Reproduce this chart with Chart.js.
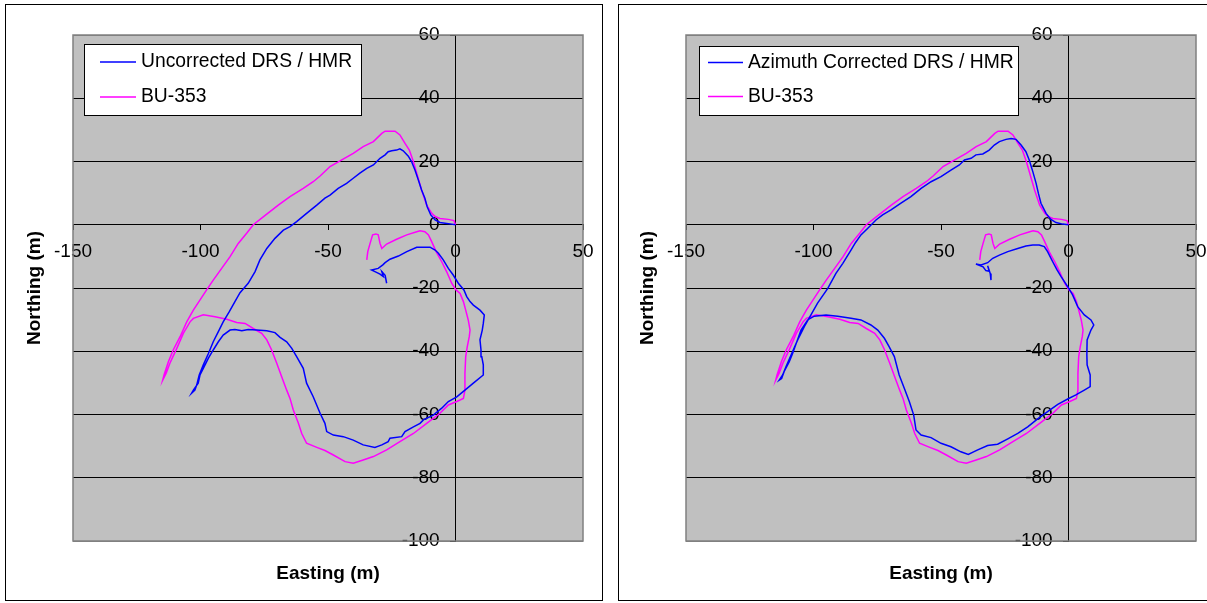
<!DOCTYPE html>
<html>
<head>
<meta charset="utf-8">
<title>DRS / HMR track vs BU-353</title>
<style>
  body {
    margin: 0;
    width: 1207px;
    height: 603px;
    overflow: hidden;
    background: #fff;
    position: relative;
  }
  .chart-box {
    position: absolute;
    top: 4px;
    width: 598px;
    height: 597px;
    border: 1px solid #000;
    box-sizing: border-box;
  }
  #boxOne { left: 5px; }
  #boxTwo { left: 618px; }
</style>
<script src="https://cdn.jsdelivr.net/npm/chart.js"></script>
</head>
<body>
<div class="chart-box" id="boxOne"><canvas id="chartOne"></canvas></div>
<div class="chart-box" id="boxTwo"><canvas id="chartTwo"></canvas></div>

<script>
"use strict";

// BU-353 GPS track (same in both charts)
const gpsEast = [
  0, -0.6, -2.8, -6.1, -8.0, -9.3, -11.3, -13.3, -15.2, -16.5,
  -18.1, -19.8, -21.8, -23.7, -27.6, -28.9, -32.2, -36.2, -40.1, -44.6,
  -49.2, -53.1, -55.8, -59.7, -64.9, -69.5, -75.4, -79.3, -81.9, -85.2,
  -88.4, -91.7, -95.0, -97.6, -102.8, -105.4, -108.0, -110.7, -112.6, -114.3,
  -114.8, -113.5, -112.0, -109.3, -106.7, -104.1, -102.8, -98.9, -94.3, -89.7,
  -85.8, -82.5, -79.3, -76.0, -74.0, -72.1, -70.1, -68.2, -66.2, -64.9,
  -63.6, -61.6, -60.3, -58.4, -54.4, -51.2, -47.9, -43.3, -40.1, -36.2,
  -32.2, -27.0, -21.8, -16.5, -11.3, -6.1, -2.8, 0.5, 3.1, 3.7,
  3.7, 4.0, 4.6, 5.4, 5.7, 5.0, 4.0, 3.1, 1.8, 0.2,
  -1.5, -3.5, -5.4, -7.6, -9.3, -10.6, -12.0, -13.9, -15.2, -19.1,
  -23.1, -27.0, -28.9, -29.6, -30.3, -31.2, -32.5, -33.5, -34.4, -34.8,
];
const gpsNorth = [
  0, 1.3, 1.7, 2.0, 2.6, 3.6, 6.2, 11.0, 16.3, 19.9,
  23.6, 25.7, 28.4, 29.6, 29.6, 28.9, 26.3, 24.7, 22.6, 20.5,
  18.4, 15.4, 13.6, 11.5, 8.9, 6.2, 2.5, 0, -2.7, -5.9,
  -10.1, -13.8, -17.5, -20.6, -27.0, -30.7, -35.4, -39.6, -43.3, -47.5,
  -49.1, -47.0, -43.8, -39.1, -34.3, -30.7, -29.6, -28.5, -29.1, -29.9,
  -30.9, -31.2, -32.8, -34.3, -36.4, -39.6, -43.8, -48.0, -52.3, -54.9,
  -58.6, -62.8, -66.0, -69.1, -70.4, -71.4, -72.8, -74.9, -75.4, -74.4,
  -73.3, -71.2, -68.6, -66.0, -62.8, -59.6, -57.0, -55.9, -54.9, -52.3,
  -47.0, -41.7, -38.6, -35.4, -33.3, -30.1, -27.0, -24.3, -21.7, -20.6,
  -18.5, -14.8, -11.7, -8.5, -5.4, -3.2, -2.2, -1.9, -2.2, -3.2,
  -4.6, -6.1, -7.5, -5.9, -3.2, -2.9, -3.2, -5.9, -8.5, -11.1,
];

// Uncorrected DRS / HMR track
const rawEast = [
  0, -1.5, -4.1, -6.1, -8.0, -9.7, -11.1, -12.0, -13.3, -14.6,
  -15.9, -17.2, -18.5, -20.5, -21.8, -23.1, -25.0, -26.4, -27.6, -29.6,
  -32.2, -34.8, -37.5, -40.1, -42.7, -46.0, -49.2, -51.2, -54.4, -58.4,
  -62.3, -64.9, -67.5, -70.8, -74.0, -76.7, -78.6, -81.3, -84.5, -86.5,
  -88.7, -91.1, -93.0, -95.0, -96.9, -98.9, -100.5, -101.5, -102.2, -103.5,
  -102.8, -100.9, -100.2, -98.9, -96.9, -95.0, -93.0, -91.1, -88.4, -86.5,
  -83.8, -81.3, -78.0, -74.0, -70.8, -68.8, -66.2, -64.2, -62.3, -59.7,
  -58.4, -55.8, -53.1, -51.2, -50.5, -47.9, -44.0, -40.1, -36.2, -31.6,
  -28.9, -26.4, -25.7, -21.1, -19.8, -16.5, -13.9, -12.6, -8.7, -5.4,
  -2.8, 0.5, 3.7, 7.0, 10.9, 10.9, 10.3, 10.0, 9.6, 10.5,
  10.9, 11.3, 9.6, 7.0, 5.7, 4.4, 3.3, 1.1, -0.9, -2.8,
  -4.8, -6.7, -8.0, -10.0, -15.2, -19.1, -22.4, -25.7, -27.6, -28.5,
  -30.3, -32.9, -31.6, -29.6, -28.3, -28.9, -27.6, -27.0,
];
const rawNorth = [
  0, 0.2, 0.5, 0.7, 1.5, 3.1, 5.7, 8.4, 11.0, 14.2,
  17.3, 19.9, 21.7, 23.4, 24.0, 23.6, 23.4, 23.1, 22.1, 21.0,
  18.9, 17.8, 16.3, 14.7, 13.1, 11.5, 9.4, 8.4, 6.2, 3.6,
  1.0, -0.6, -1.7, -4.3, -7.5, -11.1, -14.8, -18.5, -21.5, -24.3,
  -27.5, -30.7, -33.8, -37.0, -40.7, -44.3, -47.5, -50.7, -52.3, -53.3,
  -52.3, -50.1, -47.5, -45.4, -42.2, -39.6, -37.0, -34.9, -33.3, -33.1,
  -33.5, -33.1, -33.3, -33.5, -34.1, -35.6, -37.0, -39.1, -41.7, -45.4,
  -50.1, -54.4, -59.6, -62.8, -65.4, -66.5, -67.0, -68.1, -69.6, -70.4,
  -69.6, -68.6, -67.5, -67.0, -65.4, -63.9, -62.8, -61.7, -60.2, -58.0,
  -55.9, -54.4, -52.3, -50.1, -47.5, -44.3, -41.7, -39.6, -36.4, -33.3,
  -31.2, -28.5, -27.0, -25.4, -24.3, -22.7, -20.6, -18.5, -15.9, -13.8,
  -11.1, -9.0, -8.0, -7.1, -7.1, -8.5, -9.9, -10.9, -12.0, -12.7,
  -13.8, -14.3, -14.8, -15.6, -16.4, -14.8, -16.0, -18.5,
];

// Azimuth corrected DRS / HMR track
const corrEast = [
  0, -2.3, -4.9, -6.9, -8.8, -10.8, -11.8, -12.7, -14.0, -15.4,
  -16.7, -18.6, -20.6, -22.5, -24.5, -27.1, -29.1, -31.1, -33.6, -36.3,
  -38.2, -40.8, -42.8, -46.1, -50.0, -53.9, -57.8, -61.8, -65.7, -69.6,
  -72.9, -75.5, -78.7, -81.4, -83.5, -85.3, -88.5, -91.2, -94.4, -98.4,
  -101.0, -103.6, -106.2, -108.8, -110.8, -112.1, -113.4, -112.5, -111.5, -109.5,
  -108.2, -104.9, -102.3, -99.7, -95.1, -90.5, -85.3, -81.4, -77.5, -74.8,
  -72.2, -70.3, -68.3, -66.4, -64.4, -62.4, -60.7, -59.8, -57.8, -53.9,
  -50.0, -46.1, -42.2, -39.3, -35.6, -31.7, -27.8, -23.8, -19.9, -16.0,
  -12.1, -8.2, -4.2, -0.3, 2.9, 6.2, 8.5, 8.5, 7.3, 7.2,
  7.3, 8.8, 9.9, 8.8, 6.2, 3.6, 1.6, -0.3, -2.9, -4.5,
  -6.2, -8.2, -9.5, -11.5, -14.0, -16.7, -19.9, -23.8, -27.1, -29.7,
  -31.7, -34.3, -36.3, -33.5, -32.4, -31.1, -31.7, -30.7, -30.4,
];
const corrNorth = [
  0, 0.2, 0.7, 1.7, 3.6, 6.8, 9.9, 13.1, 16.8, 20.5,
  23.1, 25.2, 27.0, 27.3, 27.0, 26.3, 25.2, 23.6, 22.4, 22.1,
  21.0, 20.5, 18.9, 17.3, 15.2, 13.6, 11.5, 8.9, 6.8, 4.7,
  3.1, 1.5, -1.1, -3.2, -5.6, -8.0, -12.2, -15.4, -20.1, -24.8,
  -28.5, -32.2, -36.4, -41.2, -44.9, -47.5, -49.1, -48.6, -46.4, -43.3,
  -40.7, -33.3, -30.1, -28.9, -28.5, -28.9, -29.6, -30.1, -31.7, -33.3,
  -35.9, -38.6, -41.7, -47.5, -51.7, -56.0, -60.2, -64.9, -66.5, -67.3,
  -69.1, -70.2, -71.8, -72.6, -71.2, -69.8, -69.4, -67.7, -66.0, -63.9,
  -61.4, -59.1, -56.8, -55.1, -53.8, -52.3, -51.2, -47.5, -44.3, -41.0,
  -36.4, -33.3, -31.7, -30.1, -28.5, -25.9, -22.2, -19.6, -16.4, -14.3,
  -11.7, -8.5, -6.9, -6.4, -6.4, -6.7, -7.5, -8.5, -9.6, -10.6,
  -12.0, -12.7, -12.4, -13.3, -14.5, -14.7, -13.0, -15.4, -17.5,
];

const eastingTicks = [-150, -100, -50, 0, 50];
const northingTicks = [-100, -80, -60, -40, -20, 0, 20, 40, 60];

const fontFamily = "'Liberation Sans', Arial, sans-serif";

function toPoints(xs, ys) {
  return xs.map((x, i) => ({ x: x, y: ys[i] }));
}

// grey plot area, axis titles and the boxed legend inside the plot
const plotFrame = {
  id: "plotFrame",
  beforeDraw(chart) {
    const { ctx, chartArea: a } = chart;
    ctx.save();
    ctx.fillStyle = "#c0c0c0";
    ctx.fillRect(a.left, a.top, a.right - a.left, a.bottom - a.top);
    ctx.restore();
  },
  beforeDatasetsDraw(chart) {
    const { ctx, chartArea: a } = chart;
    ctx.save();
    ctx.strokeStyle = "#808080";
    ctx.lineWidth = 1.5;
    ctx.strokeRect(a.left, a.top, a.right - a.left, a.bottom - a.top);
    ctx.restore();
  },
  afterDraw(chart, args, opts) {
    const { ctx, chartArea: a } = chart;

    ctx.save();
    ctx.fillStyle = "#000";
    ctx.font = "bold 19px " + fontFamily;
    ctx.textAlign = "center";
    ctx.textBaseline = "middle";
    ctx.fillText("Easting (m)", (a.left + a.right) / 2, a.bottom + 33);
    ctx.translate(a.left - 38, (a.top + a.bottom) / 2);
    ctx.rotate(-Math.PI / 2);
    ctx.fillText("Northing (m)", 0, 0);
    ctx.restore();

    const lx = Math.round(a.left + opts.x);
    const ly = Math.round(a.top + opts.y);
    ctx.save();
    ctx.fillStyle = "#fff";
    ctx.fillRect(lx, ly, opts.width, opts.height);
    ctx.strokeStyle = "#000";
    ctx.lineWidth = 1;
    ctx.strokeRect(lx + 0.5, ly + 0.5, opts.width, opts.height);
    ctx.font = "19.3px " + fontFamily;
    ctx.textBaseline = "middle";
    chart.data.datasets.forEach((ds, i) => {
      const y = ly + opts.rows[i];
      ctx.strokeStyle = ds.borderColor;
      ctx.lineWidth = 1.5;
      ctx.beginPath();
      ctx.moveTo(lx + opts.lineFrom, y);
      ctx.lineTo(lx + opts.lineTo, y);
      ctx.stroke();
      ctx.fillStyle = "#000";
      ctx.fillText(ds.label, lx + opts.textAt, y);
    });
    ctx.restore();
  },
};

function makeChart(canvasId, trackLabel, east, north, legendBox) {
  return new Chart(document.getElementById(canvasId), {
    type: "scatter",
    data: {
      datasets: [
        {
          label: trackLabel,
          data: toPoints(east, north),
          showLine: true,
          borderColor: "#0000ff",
          backgroundColor: "#0000ff",
          borderWidth: 1.5,
          pointRadius: 0,
        },
        {
          label: "BU-353",
          data: toPoints(gpsEast, gpsNorth),
          showLine: true,
          borderColor: "#ff00ff",
          backgroundColor: "#ff00ff",
          borderWidth: 1.5,
          pointRadius: 0,
        },
      ],
    },
    options: {
      responsive: true,
      maintainAspectRatio: false,
      animation: false,
      layout: {
        padding: { left: 67, top: 30, right: 19, bottom: 59 },
      },
      scales: {
        x: {
          type: "linear",
          min: -150,
          max: 50,
          position: { y: 0 },
          afterBuildTicks: (axis) => {
            axis.ticks = eastingTicks.map((v) => ({ value: v }));
          },
          grid: {
            drawOnChartArea: false,
            drawTicks: true,
            tickLength: 5,
            color: "#000",
          },
          border: { color: "#000", width: 1 },
          // small padding keeps the "50" label from shrinking the plot;
          // the taller line height moves the labels down instead
          ticks: {
            color: "#000",
            padding: 8,
            maxRotation: 0,
            autoSkip: false,
            font: { family: fontFamily, size: 19, lineHeight: 1.47 },
          },
        },
        y: {
          type: "linear",
          min: -100,
          max: 60,
          position: { x: 0 },
          afterBuildTicks: (axis) => {
            axis.ticks = northingTicks.map((v) => ({ value: v }));
          },
          grid: {
            color: (c) =>
              c.tick && (c.tick.value === 60 || c.tick.value === -100) ? "#808080" : "#000",
            tickColor: "#000",
            tickLength: 5,
          },
          border: { color: "#000", width: 1 },
          ticks: {
            color: "#000",
            autoSkip: false,
            font: { family: fontFamily, size: 19 },
            // labels sit right against a centred axis, so push them off it
            callback: (v) => v + "   ",
          },
        },
      },
      plugins: {
        legend: { display: false },
        tooltip: { enabled: false },
        plotFrame: legendBox,
      },
    },
    plugins: [plotFrame],
  });
}

makeChart("chartOne", "Uncorrected DRS / HMR", rawEast, rawNorth, {
  x: 11, y: 9, width: 277, height: 71,
  lineFrom: 16, lineTo: 52, textAt: 57, rows: [18, 53],
});

makeChart("chartTwo", "Azimuth Corrected DRS / HMR", corrEast, corrNorth, {
  x: 13, y: 11, width: 319, height: 69,
  lineFrom: 9, lineTo: 44, textAt: 49, rows: [16.5, 50.5],
});
</script>
</body>
</html>
